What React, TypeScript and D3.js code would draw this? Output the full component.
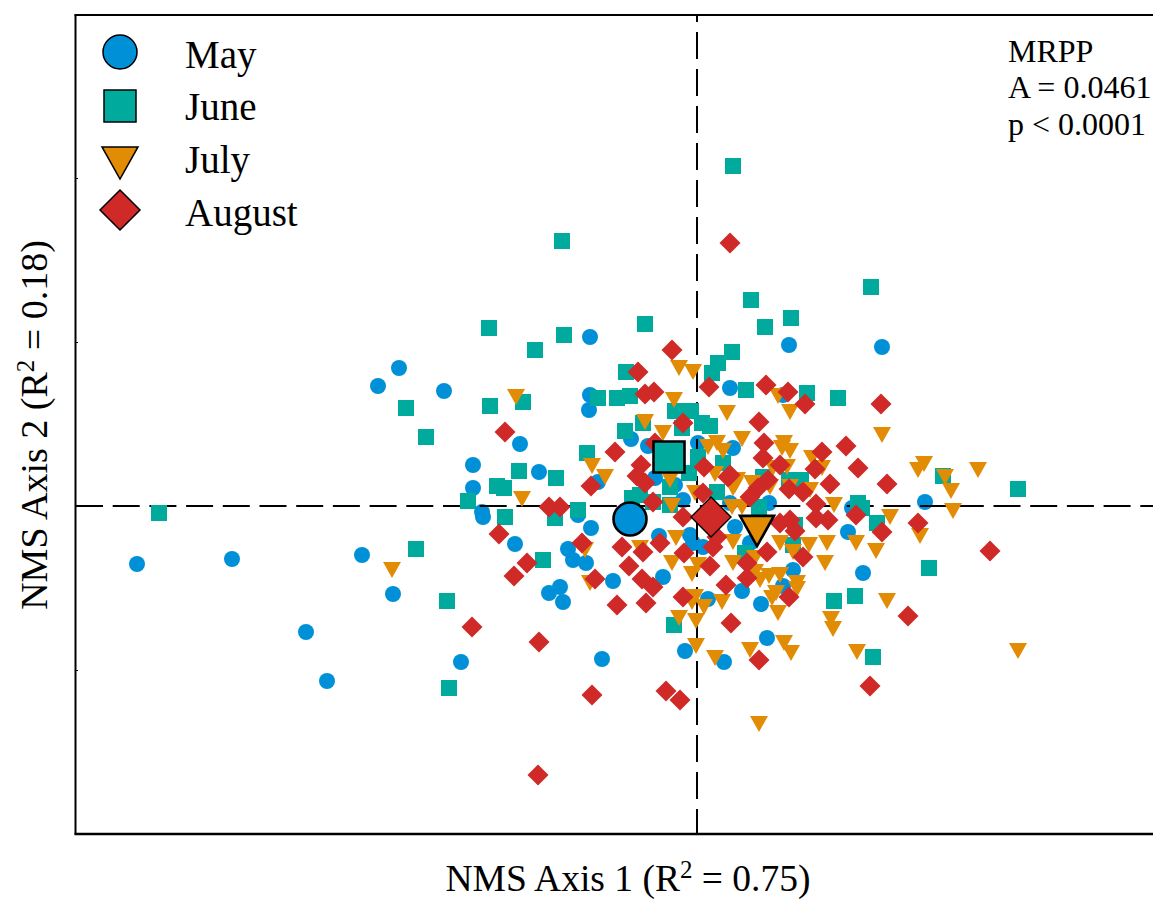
import React, { useEffect, useRef } from 'react';
import * as d3 from 'd3';

type Pt = [number, number];

const months = ['May', 'June', 'July', 'August'];
const colors = ['#0090d8', '#00ab9e', '#e28c05', '#cf2a27'];

// ordination scores
const mayPoints: Pt[] = [
  [-559, -58], [-464, -53], [-390, -126], [-369, -175], [-334, -49], [-303, -88], [-318, 120], [-297, 138],
  [-252, 115], [-235, -156], [-223, 41], [-223, 18], [-214, -6], [-213, -11], [-181, -38], [-176, 62],
  [-157, 34], [-147, -87], [-136, -81], [-133, -96], [-128, -43], [-123, -54], [-110, -57], [-105, -22],
  [-118, -9], [-94, -153], [-83, -75], [-106, 169], [-106, 111], [-107, 96], [-65, 67], [-48, 60],
  [-98, 24], [-41, 28], [-21, 21], [-13, 6], [2, 63], [37, 58], [34, 118], [87, 111],
  [93, 161], [186, 159], [34, 3], [73, 3], [156, -2], [229, 4], [152, -26], [167, -67],
  [97, -64], [87, -80], [46, -85], [65, -98], [71, -132], [54, -37], [39, -21], [-37, -30],
  [-6, -29], [-3, -37], [7, -41], [-33, -71], [12, -93], [-11, -145], [28, -156],
];
const junePoints: Pt[] = [
  [37, 340], [-134, 265], [175, 219], [55, 206], [95, 188], [69, 179], [-207, 178], [-132, 171],
  [-51, 182], [-161, 156], [36, 154], [22, 143], [16, 133], [-70, 134], [-98, 108], [-79, 108],
  [-66, 110], [-21, 95], [-5, 95], [-53, 83], [-14, 78], [6, 83], [14, 80], [-71, 75],
  [-109, 53], [2, 49], [27, 43], [-7, 33], [-26, 19], [21, 14], [-64, 8], [-56, 11],
  [-118, -4], [-141, -12], [-140, 28], [-290, 98], [-270, 69], [-206, 100], [-173, 104], [-177, 35],
  [-199, 20], [-192, 18], [-228, 5], [-191, -11], [-537, -7], [-280, -43], [-249, -95], [-247, -182],
  [-153, -54], [50, 116], [111, 113], [142, 108], [67, 29], [93, 26], [105, 26], [162, 3],
  [166, -2], [63, -1], [322, 17], [247, 30], [233, -62], [177, -151], [159, -90], [138, -95],
  [-22, -119], [99, -19], [181, -17], [97, -39], [49, -47], [-26, 1], [-43, 4],
];
const julyPoints: Pt[] = [
  [-180, 109], [-304, -64], [-174, 7], [-104, 40], [-91, 29], [322, -145], [63, -218], [-17, 138],
  [-3, 134], [-22, 106], [31, 93], [-51, 84], [-33, 73], [12, 59], [21, 63], [27, 55],
  [-26, 26], [19, 32], [-1, 13], [-24, 0], [46, 67], [41, 26], [37, 18], [82, 110],
  [94, 94], [186, 71], [88, 63], [86, 58], [94, 55], [91, 39], [116, 48], [126, 38],
  [56, 23], [39, 21], [77, 38], [74, 19], [94, 19], [114, 16], [138, 1], [282, 36],
  [222, 36], [228, 42], [249, 29], [255, 15], [257, -5], [224, -30], [194, -11], [37, -36],
  [84, -37], [113, -39], [131, -37], [160, -37], [180, -45], [97, -46], [129, -57], [37, -57],
  [59, -52], [59, -66], [64, -74], [73, -70], [84, -69], [101, -77], [101, -83], [80, -87],
  [76, -92], [82, -107], [191, -95], [135, -113], [137, -123], [88, -137], [95, -147], [54, -144],
  [161, -146], [36, -1], [46, -1], [-20, -32], [-56, -42], [-24, -57], [2, -59], [-4, -68],
  [-111, -44], [-106, -77], [-1, -91], [-4, -96], [8, -101], [26, -96], [-17, -112], [0, -115],
  [0, -140], [19, -152],
];
const augustPoints: Pt[] = [
  [34, 263], [-24, 156], [-58, 134], [-51, 112], [-42, 114], [13, 119], [-13, 83], [-41, 63],
  [-81, 54], [-55, 41], [-59, 30], [-51, 23], [-105, 20], [-43, 4], [8, 39], [32, 29],
  [7, 13], [70, 121], [92, 114], [109, 102], [185, 102], [63, 84], [68, 63], [67, 48],
  [84, 41], [126, 54], [150, 60], [162, 38], [119, 37], [191, 22], [134, 22], [93, 17],
  [107, 14], [120, 2], [34, 31], [72, 26], [62, 18], [54, 9], [160, -9], [186, -26],
  [132, -14], [120, -12], [94, -14], [99, -25], [84, -17], [71, -46], [107, -51], [51, -57],
  [51, -72], [93, -91], [35, -117], [63, -154], [212, -110], [222, -17], [294, -45], [174, -180],
  [-136, -1], [-147, -1], [-13, -11], [-114, -37], [-74, -41], [-53, -46], [-36, -37], [-12, -47],
  [17, -41], [21, -31], [14, -60], [-67, -60], [-101, -73], [-54, -73], [-43, -81], [30, -79],
  [-79, -99], [-50, -97], [-13, -91], [-197, -28], [-169, -57], [-182, -70], [-224, -121], [-157, -136],
  [-104, -189], [-30, -185], [-16, -194], [-158, -269], [-191, 74],
];
const centroids: Pt[] = [[-66, -13], [-27, 49], [61, -25], [15, -11]];
const series = [mayPoints, junePoints, julyPoints, augustPoints];
const statLines = ['MRPP', 'A = 0.0461', 'p < 0.0001'];

const font = '"Liberation Serif", serif';

// r is half the width of the marker
const marker = (month: number, r: number) => {
  const p = d3.path();
  if (month === 0) {
    p.arc(0, 0, r, 0, Math.PI * 2);
  } else if (month === 1) {
    p.rect(-r, -r, r * 2, r * 2);
  } else if (month === 2) {
    p.moveTo(-r, -r * 0.89);
    p.lineTo(r, -r * 0.89);
    p.lineTo(0, r * 0.89);
    p.closePath();
  } else {
    p.moveTo(0, -r);
    p.lineTo(r, 0);
    p.lineTo(0, r);
    p.lineTo(-r, 0);
    p.closePath();
  }
  return p.toString();
};

const pointSize = [8, 8, 9, 10.5];
const bigSize = [16.5, 15.5, 17, 20];
const bigStroke = [2.6, 2.6, 2.6, 1.4];

const App = () => {
  const ref = useRef<SVGSVGElement>(null);

  useEffect(() => {
    const svg = d3.select(ref.current);
    svg.selectAll('*').remove();

    const x = d3.scaleLinear().domain([-620, 457]).range([76, 1153]);
    const y = d3.scaleLinear().domain([-328, 492]).range([834, 14]);

    const drawPoints = (m: number) => {
      svg.append('g')
        .selectAll('path')
        .data(series[m])
        .enter()
        .append('path')
        .attr('d', marker(m, pointSize[m]))
        .attr('transform', d => `translate(${x(d[0])},${y(d[1])})`)
        .attr('fill', colors[m]);
    };

    drawPoints(0);

    // zero lines sit over May but under the other months
    svg.append('line')
      .attr('x1', x(-620)).attr('x2', x(457)).attr('y1', y(0)).attr('y2', y(0))
      .attr('stroke', '#000').attr('stroke-width', 2).attr('stroke-dasharray', '27 9.7');
    svg.append('line')
      .attr('x1', x(1)).attr('x2', x(1)).attr('y1', 15).attr('y2', y(-328))
      .attr('stroke', '#000').attr('stroke-width', 2)
      .attr('stroke-dasharray', '27 10').attr('stroke-dashoffset', 20);

    drawPoints(1);
    drawPoints(2);
    drawPoints(3);

    centroids.forEach((d, m) => {
      svg.append('path')
        .attr('d', marker(m, bigSize[m]))
        .attr('transform', `translate(${x(d[0])},${y(d[1])})`)
        .attr('fill', colors[m])
        .attr('stroke', '#000')
        .attr('stroke-width', bigStroke[m]);
    });

    // frame, open on the right where the window cuts it off
    svg.append('g')
      .attr('transform', 'translate(75,0)')
      .call(d3.axisLeft(y).tickValues([-164, 164, 328]).tickSize(-3).tickFormat(() => '').tickSizeOuter(0))
      .call(g => g.select('.domain').attr('stroke-width', 2));
    svg.append('line')
      .attr('x1', 74.5).attr('x2', 1153).attr('y1', 15).attr('y2', 15)
      .attr('stroke', '#000').attr('stroke-width', 2);
    svg.append('line')
      .attr('x1', 74.5).attr('x2', 1153).attr('y1', 834).attr('y2', 834)
      .attr('stroke', '#000').attr('stroke-width', 2.6);

    // legend
    const legendY = [52, 106, 163, 210];
    const legendSize = [17, 16, 18, 20];
    months.forEach((name, m) => {
      svg.append('path')
        .attr('d', marker(m, legendSize[m]))
        .attr('transform', `translate(120,${legendY[m]})`)
        .attr('fill', colors[m])
        .attr('stroke', '#000')
        .attr('stroke-width', 1.5);
    });
    const legendBase = [68, 120, 173, 226];
    months.forEach((name, m) => {
      svg.append('text')
        .attr('x', 185).attr('y', legendBase[m])
        .attr('font-family', font).attr('font-size', 39)
        .text(name);
    });

    statLines.forEach((line, i) => {
      svg.append('text')
        .attr('x', 1008).attr('y', [62, 98, 135][i])
        .attr('font-family', font).attr('font-size', 32)
        .text(line);
    });

    const axisTitle = (g: any, label: string, r2: string, size: number) => {
      g.attr('font-family', font).attr('font-size', size).attr('text-anchor', 'middle');
      const t = g.append('text');
      t.append('tspan').text(`${label} (R`);
      t.append('tspan').attr('dy', -13).attr('font-size', 25).text('2');
      t.append('tspan').attr('dy', 13).text(` = ${r2})`);
    };
    axisTitle(svg.append('g').attr('transform', 'translate(628,891)'), 'NMS Axis 1', '0.75', 37.5);
    axisTitle(svg.append('g').attr('transform', 'translate(47,425) rotate(-90)'), 'NMS Axis 2', '0.18', 38);
  }, []);

  return (
    <svg ref={ref} width={1153} height={899}
      style={{ position: 'absolute', left: 0, top: 0, background: '#fff' }} />
  );
};

export default App;
